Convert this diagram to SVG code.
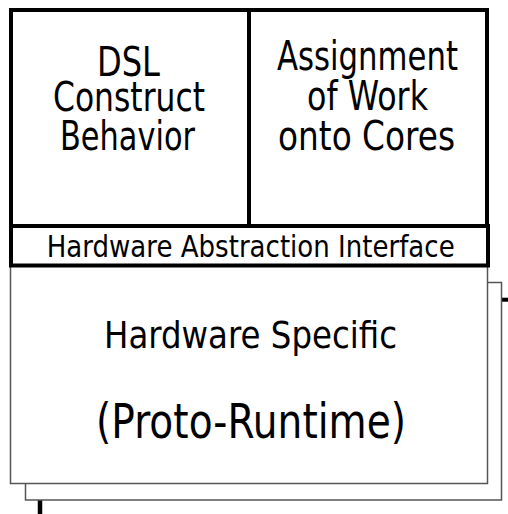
<svg xmlns="http://www.w3.org/2000/svg" width="508" height="514" viewBox="0 0 508 514">
<style>
.thick{fill:#fff;stroke:#000;stroke-width:4}
.thin{fill:#fff;stroke:#555;stroke-width:1.5}
.t{font-family:"DejaVu Sans",sans-serif;fill:#000;lengthAdjust:spacingAndGlyphs}
.big{font-size:41px}
.mid{font-size:30px}
</style>
<rect width="508" height="514" fill="#fff"/>
<g id="connectors">
<line x1="500" y1="299.7" x2="510" y2="299.7" stroke="#000" stroke-width="4"/>
<line x1="40" y1="498" x2="40" y2="516" stroke="#000" stroke-width="4.5"/>
</g>
<g id="hw-back">
<rect class="thin" x="25.5" y="282.5" width="476" height="217.5"/>
</g>
<g id="hw-specific">
<rect class="thin" x="10.5" y="262" width="477" height="221.5"/>
<text class="t" x="104" y="348.3" font-size="38" textLength="293" lengthAdjust="spacingAndGlyphs">Hardware Specific</text>
<text class="t" x="96" y="438" font-size="48" textLength="310" lengthAdjust="spacingAndGlyphs">(Proto-Runtime)</text>
</g>
<g id="interface">
<rect class="thick" x="11" y="226" width="477" height="39.5"/>
<text class="t mid" x="46.7" y="256.7" textLength="408" lengthAdjust="spacingAndGlyphs">Hardware Abstraction Interface</text>
</g>
<g id="dsl">
<rect class="thick" x="11" y="10" width="238" height="216" fill="none"/>
<text class="t big" x="97" y="76" textLength="63" lengthAdjust="spacingAndGlyphs">DSL</text>
<text class="t big" x="53" y="111" textLength="152" lengthAdjust="spacingAndGlyphs">Construct</text>
<text class="t big" x="60" y="150" textLength="135" lengthAdjust="spacingAndGlyphs">Behavior</text>
</g>
<g id="assignment">
<rect class="thick" x="249" y="10" width="238" height="216" fill="none"/>
<text class="t big" x="277" y="70" textLength="181" lengthAdjust="spacingAndGlyphs">Assignment</text>
<text class="t big" x="307" y="110" textLength="121" lengthAdjust="spacingAndGlyphs">of Work</text>
<text class="t big" x="278" y="150" textLength="177" lengthAdjust="spacingAndGlyphs">onto Cores</text>
</g>
</svg>
